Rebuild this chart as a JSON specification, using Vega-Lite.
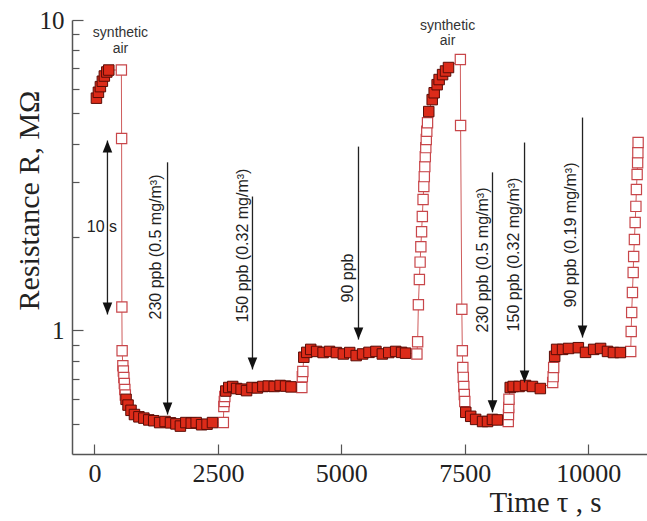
{
  "$schema": "https://vega.github.io/schema/vega-lite/v6.json",
  "width": 575,
  "height": 434,
  "autosize": {"type": "none"},
  "padding": {"left": 72, "top": 20, "right": 0, "bottom": 67},
  "background": "white",
  "config": {"view": {"stroke": null}, "axis": {"grid": false}},
  "datasets": {
    "pts": [
      {"t": 40, "r": 5.6, "k": "f"}, {"t": 80, "r": 5.85, "k": "f"}, {"t": 120, "r": 6.1, "k": "f"}, {"t": 160, "r": 6.35, "k": "f"}, {"t": 200, "r": 6.6, "k": "f"}, {"t": 250, "r": 6.8, "k": "f"}, {"t": 290, "r": 6.9, "k": "f"},
      {"t": 545, "r": 6.9, "k": "h"}, {"t": 550, "r": 4.15, "k": "h"}, {"t": 555, "r": 1.19, "k": "h"}, {"t": 560, "r": 0.86, "k": "h"}, {"t": 575, "r": 0.77, "k": "h"}, {"t": 585, "r": 0.74, "k": "h"}, {"t": 595, "r": 0.705, "k": "h"}, {"t": 605, "r": 0.675, "k": "h"}, {"t": 615, "r": 0.645, "k": "h"}, {"t": 625, "r": 0.62, "k": "h"},
      {"t": 640, "r": 0.6, "k": "f"}, {"t": 680, "r": 0.575, "k": "f"}, {"t": 740, "r": 0.553, "k": "f"}, {"t": 810, "r": 0.536, "k": "f"}, {"t": 900, "r": 0.527, "k": "f"}, {"t": 1000, "r": 0.522, "k": "f"}, {"t": 1100, "r": 0.515, "k": "f"}, {"t": 1200, "r": 0.512, "k": "f"}, {"t": 1320, "r": 0.505, "k": "f"}, {"t": 1430, "r": 0.509, "k": "f"}, {"t": 1540, "r": 0.504, "k": "f"}, {"t": 1650, "r": 0.5, "k": "f"}, {"t": 1740, "r": 0.492, "k": "f"}, {"t": 1850, "r": 0.505, "k": "f"}, {"t": 1960, "r": 0.503, "k": "f"}, {"t": 2060, "r": 0.505, "k": "f"}, {"t": 2170, "r": 0.497, "k": "f"}, {"t": 2280, "r": 0.499, "k": "f"}, {"t": 2390, "r": 0.505, "k": "f"},
      {"t": 2610, "r": 0.505, "k": "h"}, {"t": 2620, "r": 0.569, "k": "h"}, {"t": 2630, "r": 0.59, "k": "h"}, {"t": 2640, "r": 0.613, "k": "h"},
      {"t": 2660, "r": 0.638, "k": "f"}, {"t": 2720, "r": 0.655, "k": "f"}, {"t": 2800, "r": 0.66, "k": "f"}, {"t": 2880, "r": 0.65, "k": "f"}, {"t": 2970, "r": 0.647, "k": "f"}, {"t": 3080, "r": 0.64, "k": "f"}, {"t": 3190, "r": 0.655, "k": "f"}, {"t": 3300, "r": 0.653, "k": "f"}, {"t": 3410, "r": 0.66, "k": "f"}, {"t": 3520, "r": 0.662, "k": "f"}, {"t": 3640, "r": 0.66, "k": "f"}, {"t": 3760, "r": 0.665, "k": "f"}, {"t": 3870, "r": 0.662, "k": "f"}, {"t": 3980, "r": 0.658, "k": "f"},
      {"t": 4200, "r": 0.655, "k": "h"}, {"t": 4210, "r": 0.71, "k": "h"}, {"t": 4220, "r": 0.738, "k": "h"},
      {"t": 4240, "r": 0.82, "k": "f"}, {"t": 4300, "r": 0.85, "k": "f"}, {"t": 4380, "r": 0.869, "k": "f"}, {"t": 4500, "r": 0.856, "k": "f"}, {"t": 4630, "r": 0.849, "k": "f"}, {"t": 4760, "r": 0.856, "k": "f"}, {"t": 4900, "r": 0.849, "k": "f"}, {"t": 5040, "r": 0.84, "k": "f"}, {"t": 5170, "r": 0.849, "k": "f"}, {"t": 5300, "r": 0.83, "k": "f"}, {"t": 5430, "r": 0.84, "k": "f"}, {"t": 5560, "r": 0.85, "k": "f"}, {"t": 5700, "r": 0.856, "k": "f"}, {"t": 5830, "r": 0.84, "k": "f"}, {"t": 5960, "r": 0.849, "k": "f"}, {"t": 6100, "r": 0.856, "k": "f"}, {"t": 6220, "r": 0.85, "k": "f"}, {"t": 6300, "r": 0.845, "k": "f"},
      {"t": 6530, "r": 0.84, "k": "h"}, {"t": 6545, "r": 0.92, "k": "h"}, {"t": 6560, "r": 1.21, "k": "h"}, {"t": 6580, "r": 1.46, "k": "h"}, {"t": 6595, "r": 1.66, "k": "h"}, {"t": 6610, "r": 1.86, "k": "h"}, {"t": 6625, "r": 2.08, "k": "h"}, {"t": 6640, "r": 2.33, "k": "h"}, {"t": 6655, "r": 2.64, "k": "h"}, {"t": 6670, "r": 2.91, "k": "h"}, {"t": 6680, "r": 3.13, "k": "h"}, {"t": 6690, "r": 3.37, "k": "h"}, {"t": 6700, "r": 3.63, "k": "h"}, {"t": 6710, "r": 3.88, "k": "h"}, {"t": 6720, "r": 4.12, "k": "h"}, {"t": 6730, "r": 4.38, "k": "h"}, {"t": 6745, "r": 4.67, "k": "h"},
      {"t": 6770, "r": 5.07, "k": "f"}, {"t": 6840, "r": 5.54, "k": "f"}, {"t": 6880, "r": 5.83, "k": "f"}, {"t": 6940, "r": 6.19, "k": "f"}, {"t": 6980, "r": 6.43, "k": "f"}, {"t": 7050, "r": 6.67, "k": "f"}, {"t": 7110, "r": 6.85, "k": "f"}, {"t": 7170, "r": 7.03, "k": "f"},
      {"t": 7410, "r": 7.46, "k": "h"}, {"t": 7415, "r": 4.57, "k": "h"}, {"t": 7440, "r": 1.17, "k": "h"}, {"t": 7450, "r": 0.86, "k": "h"}, {"t": 7460, "r": 0.76, "k": "h"}, {"t": 7470, "r": 0.706, "k": "h"}, {"t": 7480, "r": 0.66, "k": "h"}, {"t": 7490, "r": 0.622, "k": "h"}, {"t": 7500, "r": 0.59, "k": "h"},
      {"t": 7520, "r": 0.545, "k": "f"}, {"t": 7620, "r": 0.529, "k": "f"}, {"t": 7720, "r": 0.517, "k": "f"}, {"t": 7860, "r": 0.509, "k": "f"}, {"t": 7960, "r": 0.509, "k": "f"}, {"t": 8060, "r": 0.517, "k": "f"}, {"t": 8160, "r": 0.515, "k": "f"},
      {"t": 8380, "r": 0.509, "k": "h"}, {"t": 8385, "r": 0.536, "k": "h"}, {"t": 8390, "r": 0.565, "k": "h"}, {"t": 8395, "r": 0.6, "k": "h"},
      {"t": 8420, "r": 0.655, "k": "f"}, {"t": 8480, "r": 0.66, "k": "f"}, {"t": 8600, "r": 0.66, "k": "f"}, {"t": 8730, "r": 0.665, "k": "f"}, {"t": 8870, "r": 0.66, "k": "f"}, {"t": 9030, "r": 0.65, "k": "f"},
      {"t": 9280, "r": 0.68, "k": "h"}, {"t": 9290, "r": 0.71, "k": "h"}, {"t": 9300, "r": 0.76, "k": "h"},
      {"t": 9320, "r": 0.825, "k": "f"}, {"t": 9360, "r": 0.869, "k": "f"}, {"t": 9480, "r": 0.869, "k": "f"}, {"t": 9600, "r": 0.875, "k": "f"}, {"t": 9800, "r": 0.88, "k": "f"}, {"t": 9945, "r": 0.85, "k": "f"}, {"t": 10110, "r": 0.869, "k": "f"}, {"t": 10250, "r": 0.875, "k": "f"}, {"t": 10390, "r": 0.856, "k": "f"}, {"t": 10510, "r": 0.849, "k": "f"}, {"t": 10650, "r": 0.849, "k": "f"},
      {"t": 10860, "r": 0.856, "k": "h"}, {"t": 10870, "r": 0.993, "k": "h"}, {"t": 10880, "r": 1.143, "k": "h"}, {"t": 10895, "r": 1.325, "k": "h"}, {"t": 10910, "r": 1.537, "k": "h"}, {"t": 10920, "r": 1.73, "k": "h"}, {"t": 10935, "r": 1.964, "k": "h"}, {"t": 10950, "r": 2.228, "k": "h"}, {"t": 10965, "r": 2.51, "k": "h"}, {"t": 10975, "r": 2.845, "k": "h"}, {"t": 10990, "r": 3.18, "k": "h"}, {"t": 11000, "r": 3.47, "k": "h"}, {"t": 11005, "r": 3.74, "k": "h"}, {"t": 11010, "r": 4.03, "k": "h"}
    ],
    "arrows": [
      {"t": 263, "top": 4.09, "tip": 1.126, "up": true},
      {"t": 1480, "top": 3.48, "tip": 0.536, "up": false},
      {"t": 3200, "top": 2.7, "tip": 0.749, "up": false},
      {"t": 5347, "top": 3.91, "tip": 0.935, "up": false},
      {"t": 8061, "top": 3.23, "tip": 0.545, "up": false},
      {"t": 8710, "top": 4.03, "tip": 0.68, "up": false},
      {"t": 9884, "top": 4.85, "tip": 0.949, "up": false}
    ],
    "notes": [
      {"t": 527, "r": 9.11, "s": "synthetic"},
      {"t": 527, "r": 8.09, "s": "air"},
      {"t": 7150, "r": 9.6, "s": "synthetic"},
      {"t": 7150, "r": 8.53, "s": "air"}
    ],
    "tens": [
      {"t": 152, "r": 2.16, "s": "10 s"}
    ],
    "vlabels": [
      {"t": 1347, "r": 1.085, "s": "230 ppb  (0.5 mg/m³)"},
      {"t": 3119, "r": 1.061, "s": "150 ppb  (0.32 mg/m³)"},
      {"t": 5226, "r": 1.231, "s": "90 ppb"},
      {"t": 7960, "r": 0.985, "s": "230 ppb  (0.5 mg/m³)"},
      {"t": 8588, "r": 0.993, "s": "150 ppb  (0.32 mg/m³)"},
      {"t": 9743, "r": 1.186, "s": "90 ppb   (0.19 mg/m³)"}
    ]
  },
  "layer": [
    {
      "data": {"name": "pts"},
      "mark": {"type": "line", "color": "#cf5c5c", "strokeWidth": 1},
      "encoding": {
        "x": {
          "field": "t", "type": "quantitative",
          "scale": {"domain": [-455, 11190], "nice": false, "zero": false},
          "axis": {
            "values": [0, 2500, 5000, 7500, 10000], "format": "d",
            "tickSize": -10, "tickColor": "#555", "tickWidth": 1.2,
            "domainColor": "#555", "domainWidth": 1.5,
            "labelFont": "Liberation Serif", "labelFontSize": 26, "labelColor": "#222", "labelPadding": 16,
            "labelFlush": false, "labelOverlap": false,
            "title": "Time τ , s", "titleFont": "Liberation Serif", "titleFontSize": 29, "titleFontWeight": "normal", "titleColor": "#222",
            "titleX": 473, "titleY": 57, "titleAlign": "center", "titleBaseline": "alphabetic"
          }
        },
        "y": {
          "field": "r", "type": "quantitative",
          "scale": {"type": "log", "domain": [0.4, 10], "nice": false},
          "axis": {
            "values": [0.5, 0.6, 0.7, 0.8, 0.9, 1, 2, 3, 4, 5, 6, 7, 8, 9, 10],
            "labelExpr": "datum.value == 1 ? '1' : datum.value == 10 ? '10' : ''",
            "tickSize": {"condition": {"test": "datum.value == 1 || datum.value == 10", "value": -11}, "value": -7},
            "tickColor": "#555", "tickWidth": 1.2,
            "domainColor": "#555", "domainWidth": 1.5,
            "labelFont": "Liberation Serif", "labelFontSize": 25, "labelColor": "#222", "labelPadding": 19,
            "labelFlush": false, "labelOverlap": false,
            "title": "Resistance R, MΩ", "titleFont": "Liberation Serif", "titleFontSize": 30, "titleFontWeight": "normal", "titleColor": "#222",
            "titleX": -34, "titleY": 180, "titleAngle": 270, "titleAlign": "center", "titleBaseline": "alphabetic"
          }
        }
      }
    },
    {
      "data": {"name": "pts"},
      "transform": [{"filter": "datum.k == 'h'"}],
      "mark": {"type": "point", "shape": "square", "size": 105, "filled": true, "fill": "white", "stroke": "#c8464a", "strokeWidth": 1.2, "opacity": 1},
      "encoding": {
        "x": {"field": "t", "type": "quantitative"},
        "y": {"field": "r", "type": "quantitative"}
      }
    },
    {
      "data": {"name": "pts"},
      "transform": [{"filter": "datum.k == 'f'"}],
      "mark": {"type": "point", "shape": "square", "size": 110, "filled": true, "fill": "#dc2b19", "stroke": "#5a0c06", "strokeWidth": 1, "opacity": 1},
      "encoding": {
        "x": {"field": "t", "type": "quantitative"},
        "y": {"field": "r", "type": "quantitative"}
      }
    },
    {
      "data": {"name": "arrows"},
      "mark": {"type": "rule", "color": "#222", "strokeWidth": 1.3},
      "encoding": {
        "x": {"field": "t", "type": "quantitative"},
        "y": {"field": "top", "type": "quantitative"},
        "y2": {"field": "tip"}
      }
    },
    {
      "data": {"name": "arrows"},
      "mark": {"type": "point", "shape": "M-0.8,-2L0.8,-2L0,0Z", "size": 144, "filled": true, "fill": "#111", "strokeWidth": 0, "opacity": 1},
      "encoding": {
        "x": {"field": "t", "type": "quantitative"},
        "y": {"field": "tip", "type": "quantitative"}
      }
    },
    {
      "data": {"name": "arrows"},
      "transform": [{"filter": "datum.up"}],
      "mark": {"type": "point", "shape": "M-0.8,2L0.8,2L0,0Z", "size": 144, "filled": true, "fill": "#111", "strokeWidth": 0, "opacity": 1},
      "encoding": {
        "x": {"field": "t", "type": "quantitative"},
        "y": {"field": "top", "type": "quantitative"}
      }
    },
    {
      "data": {"name": "notes"},
      "mark": {"type": "text", "font": "Liberation Sans", "fontSize": 14, "color": "#333", "align": "center", "baseline": "middle"},
      "encoding": {
        "x": {"field": "t", "type": "quantitative"},
        "y": {"field": "r", "type": "quantitative"},
        "text": {"field": "s"}
      }
    },
    {
      "data": {"name": "tens"},
      "mark": {"type": "text", "font": "Liberation Sans", "fontSize": 16, "color": "#222", "align": "center", "baseline": "middle"},
      "encoding": {
        "x": {"field": "t", "type": "quantitative"},
        "y": {"field": "r", "type": "quantitative"},
        "text": {"field": "s"}
      }
    },
    {
      "data": {"name": "vlabels"},
      "mark": {"type": "text", "font": "Liberation Sans", "fontSize": 16, "color": "#222", "align": "left", "baseline": "alphabetic", "angle": 270},
      "encoding": {
        "x": {"field": "t", "type": "quantitative"},
        "y": {"field": "r", "type": "quantitative"},
        "text": {"field": "s"}
      }
    }
  ]
}
